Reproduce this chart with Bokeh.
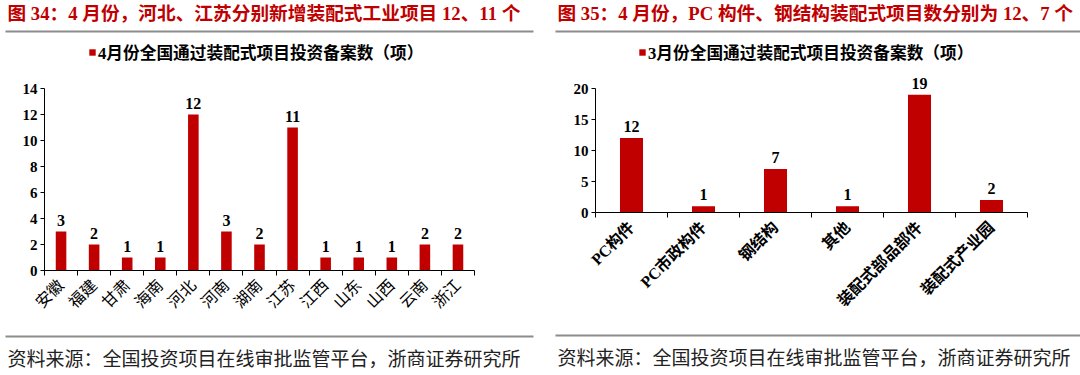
import math
from bokeh.plotting import figure
from bokeh.models import (Range1d, FixedTicker, Label, BoxAnnotation, Legend, LegendItem,
                          ColumnDataSource, LabelSet)
from bokeh.layouts import row
from bokeh.embed import file_html
from bokeh.resources import INLINE

# ---------------- data ----------------
provinces = ["安徽", "福建", "甘肃", "海南", "河北", "河南", "湖南", "江苏", "江西", "山东", "山西", "云南", "浙江"]
province_counts = [3, 2, 1, 1, 12, 3, 2, 11, 1, 1, 1, 2, 2]
project_types = ["PC构件", "PC市政构件", "钢结构", "其他", "装配式部品部件", "装配式产业园"]
type_counts = [12, 1, 7, 1, 19, 2]
y1_ticks = [0, 2, 4, 6, 8, 10, 12, 14]
y2_ticks = [0, 5, 10, 15, 20]
title1 = "图 34：4 月份，河北、江苏分别新增装配式工业项目 12、11 个"
title2 = "图 35：4 月份，PC 构件、钢结构装配式项目数分别为 12、7 个"
legend1 = "4月份全国通过装配式项目投资备案数（项）"
legend2 = "3月份全国通过装配式项目投资备案数（项）"
source_note = "资料来源：全国投资项目在线审批监管平台，浙商证券研究所"

RED = "#C00000"
GRAY = "#8c8c8c"
MIX = "'Liberation Serif', 'Noto Sans CJK SC'"
CJK = "'Noto Sans CJK SC'"
W, H = 540, 375


def make_panel(cats, vals, yticks, title, legend_text, px0, fl, fr, fb, ft,
               line_x0, line_x1, tl_y, fl_y, xlab_style, xlab_size):
    n = len(cats)
    ymax = yticks[-1]
    # map the plotting area (page pixels fl..fr, ft..fb) onto the data space;
    # the frame covers the whole panel so texts and rules outside the axes are not clipped
    kx = n / (fr - fl)
    ky = ymax / (fb - ft)
    x_range = Range1d(-(fl - px0) * kx, n + (px0 + W - fr) * kx)
    y_range = Range1d(-(H - fb) * ky, ymax + ft * ky)
    p = figure(width=W, height=H, output_backend="svg", toolbar_location=None,
               x_range=x_range, y_range=y_range,
               min_border=0, min_border_left=0, min_border_right=0,
               min_border_top=0, min_border_bottom=0)
    p.grid.visible = False
    p.outline_line_color = None
    p.background_fill_color = "white"
    p.border_fill_color = "white"

    sx = lambda x: x - px0
    sy = lambda y: H - y

    centers = [i + 0.5 for i in range(n)]
    src = ColumnDataSource(dict(x=centers, top=vals, lab=[str(v) for v in vals]))
    bars = p.vbar(x="x", top="top", width=0.32, bottom=0, source=src,
                  fill_color=RED, line_color=None)

    p.add_layout(LabelSet(x="x", y="top", text="lab", source=src, text_align="center",
                          text_baseline="bottom", y_offset=6, text_font=MIX,
                          text_font_style="bold", text_font_size="16px", text_color="black"))

    # axes (drawn at data 0 inside the full-panel frame)
    ya = p.yaxis[0]
    ya.fixed_location = 0
    ya.bounds = (0, ymax)
    ya.ticker = FixedTicker(ticks=yticks)
    ya.axis_line_color = "black"
    ya.major_tick_line_color = "black"
    ya.major_tick_out = 4
    ya.major_tick_in = 0
    ya.minor_tick_line_color = None
    ya.major_label_text_font = MIX
    ya.major_label_text_font_style = "bold"
    ya.major_label_text_font_size = "15px"
    ya.major_label_text_color = "black"
    ya.major_label_standoff = 3

    xa = p.xaxis[0]
    xa.fixed_location = 0
    xa.bounds = (0, n)
    xa.ticker = FixedTicker(ticks=centers, minor_ticks=list(range(n + 1)))
    xa.major_label_overrides = {c: lab for c, lab in zip(centers, cats)}
    xa.major_tick_line_color = None
    xa.major_tick_out = 0
    xa.major_tick_in = 0
    xa.minor_tick_line_color = "black"
    xa.minor_tick_out = 5
    xa.minor_tick_in = 0
    xa.axis_line_color = "black"
    xa.major_label_orientation = math.pi / 4
    xa.major_label_text_font = MIX
    xa.major_label_text_font_style = xlab_style
    xa.major_label_text_font_size = xlab_size
    xa.major_label_text_color = "black"
    xa.major_label_standoff = 7

    # legend
    leg = Legend(items=[LegendItem(label=legend_text, renderers=[bars])],
                 location=(sx(line_x0 + 83), sy(64)), glyph_width=8, glyph_height=8,
                 label_standoff=2, padding=0, margin=0, spacing=0, label_height=18,
                 border_line_color=None, background_fill_alpha=0,
                 label_text_font=MIX, label_text_font_style="bold",
                 label_text_font_size="16.7px", label_text_color="black")
    p.add_layout(leg)

    # title, rules and source note
    p.add_layout(Label(x=sx(line_x0 + 2), y=sy(13), x_units="screen", y_units="screen",
                       text=title, text_font=MIX, text_font_style="bold",
                       text_font_size="18.7px", text_color=RED, text_baseline="middle"))
    for yy in (tl_y, fl_y):
        p.add_layout(BoxAnnotation(left=sx(line_x0), right=sx(line_x1), top=sy(yy - 1),
                                   bottom=sy(yy + 1), left_units="screen", right_units="screen",
                                   top_units="screen", bottom_units="screen",
                                   fill_color=GRAY, fill_alpha=1, line_color=None))
    p.add_layout(Label(x=sx(line_x0 + 2), y=sy(fl_y + 21), x_units="screen", y_units="screen",
                       text=source_note, text_font=CJK, text_font_size="19px",
                       text_color="#222222", text_baseline="middle"))
    return p


p1 = make_panel(provinces, province_counts, y1_ticks, title1, legend1,
                px0=0, fl=44, fr=474, fb=270, ft=88,
                line_x0=5, line_x1=533, tl_y=31, fl_y=336,
                xlab_style="normal", xlab_size="16px")
p2 = make_panel(project_types, type_counts, y2_ticks, title2, legend2,
                px0=540, fl=595, fr=1027, fb=212, ft=88,
                line_x0=555, line_x1=1080, tl_y=31, fl_y=335,
                xlab_style="bold", xlab_size="16px")

layout = row(p1, p2)
open("out.html", "w").write(file_html(layout, INLINE))
